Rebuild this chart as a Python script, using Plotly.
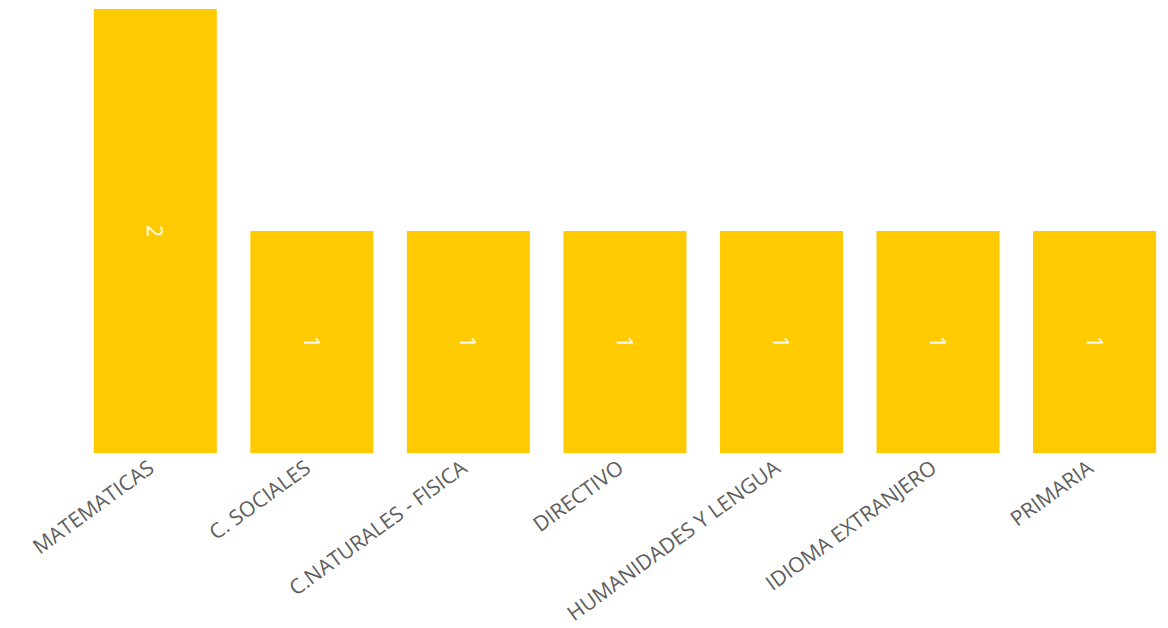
import plotly.graph_objects as go

areas = ['MATEMATICAS', 'C. SOCIALES', 'C.NATURALES - FISICA', 'DIRECTIVO',
         'HUMANIDADES Y LENGUA', 'IDIOMA EXTRANJERO', 'PRIMARIA']
counts = [2, 1, 1, 1, 1, 1, 1]

fig = go.Figure()
fig.add_trace(go.Bar(x=areas, y=counts,
                     marker=dict(color='#FFCA00', line=dict(width=0)),
                     text=[str(c) for c in counts],
                     textposition='inside',
                     insidetextanchor='middle',
                     textangle=90,
                     textfont=dict(color='white', size=21, family='Open Sans'),
                     hoverinfo='x+y'))

# page body adds 8px, so margins are offset
fig.update_layout(
    template='plotly_white',
    width=1168,
    height=628,
    autosize=False,
    margin={'l': 69, 'r': 0, 't': 1, 'b': 183},
    bargap=0.214,
    showlegend=False,
    plot_bgcolor='white',
    paper_bgcolor='white',
    font=dict(family='Open Sans', color='#605E5C'),
)
fig.update_xaxes(range=[-0.5, 6.52], tickangle=-36, showgrid=False, showline=False,
                 ticks='', ticklabelshift=-6, ticklabelstandoff=-2,
                 tickfont=dict(size=21, color='#605E5C'))
fig.update_yaxes(range=[0, 2], visible=False, showgrid=False, zeroline=False)

fig.write_html("out.html")
